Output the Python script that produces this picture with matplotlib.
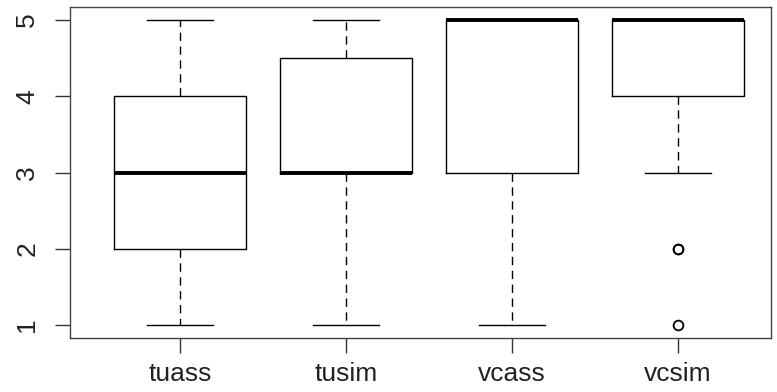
import matplotlib.pyplot as plt

plt.rcParams['font.family'] = ['Liberation Sans', 'DejaVu Sans']

# box summaries
groups = ["tuass", "tusim", "vcass", "vcsim"]
q1 = [2, 3, 3, 4]
med = [3, 3, 5, 5]
q3 = [4, 4.5, 5, 5]
whislo = [1, 1, 1, 3]
whishi = [5, 5, 5, 5]
fliers = [[], [], [], [2, 2, 1]]

stats = []
for i in range(len(groups)):
    stats.append(dict(label=groups[i], q1=q1[i], med=med[i], q3=q3[i],
                      whislo=whislo[i], whishi=whishi[i], fliers=fliers[i]))

fig = plt.figure(figsize=(7.77, 3.92), dpi=100)
ax = fig.add_axes([0.0901, 0.1378, 0.9022, 0.8442])

ax.bxp(stats, positions=[1, 2, 3, 4], widths=0.8,
       boxprops=dict(color="black", linewidth=1),
       medianprops=dict(color="black", linewidth=2.8, solid_capstyle="butt"),
       whiskerprops=dict(color="black", linewidth=1, linestyle=(0, (6, 4))),
       capprops=dict(color="black", linewidth=1),
       capwidths=0.4,
       flierprops=dict(marker="o", markerfacecolor="none", markeredgecolor="black",
                       markersize=7, markeredgewidth=1.3))

ax.set_xlim(0.337, 4.56)
ax.set_ylim(0.83, 5.17)
ax.set_yticks([1, 2, 3, 4, 5])
ax.set_yticklabels(["1", "2", "3", "4", "5"], rotation=90, va="center")
ax.tick_params(axis="both", length=11, width=1, labelsize=19, color="#333333",
               labelcolor="#222222")
ax.tick_params(axis="y", pad=11)
ax.tick_params(axis="x", pad=6)
for s in ax.spines.values():
    s.set_color("#444444")
    s.set_linewidth(1)

fig.savefig("out.png", dpi=100)
